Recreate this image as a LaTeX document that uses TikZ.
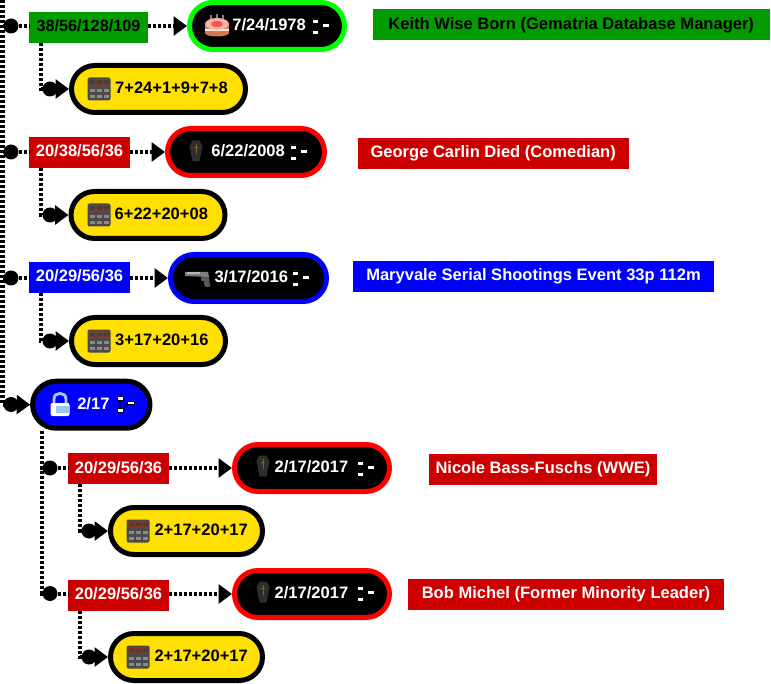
\documentclass[tikz,border=0pt]{standalone}
\usepackage{fontspec}
\setmainfont{Liberation Sans}
\usetikzlibrary{arrows.meta}
\definecolor{boxgreen}{HTML}{009C00}
\definecolor{boxred}{HTML}{CC0000}
\definecolor{boxblue}{HTML}{0000FF}
\definecolor{ringgreen}{HTML}{00FF00}
\definecolor{ringred}{HTML}{FF0000}
\definecolor{pillyellow}{HTML}{FFE000}
\definecolor{calcbody}{HTML}{4A4A4A}
\definecolor{calctop}{HTML}{7E3A26}
\definecolor{calckey}{HTML}{8A8A8A}
\definecolor{coffinbody}{HTML}{2E2E2E}
\definecolor{coffincross}{HTML}{8A6020}
\definecolor{cakeside}{HTML}{D07A50}
\definecolor{caketop}{HTML}{F6B0A0}
\definecolor{cakered}{HTML}{E85A50}
\definecolor{lockring}{HTML}{A8C8EC}
\definecolor{lockband}{HTML}{9CC8EE}
\newcommand{\pilltext}[3]{\makebox[#1pt][l]{\hspace*{#2pt}#3}}
\tikzset{
  x=0.75pt,y=-0.75pt,
  every node/.style={font=\bfseries\fontsize{12.4}{14}\selectfont,inner sep=0pt,outer sep=0pt},
  pillbase/.style={draw,line width=3.75pt,rounded corners=17.6pt,minimum height=35.25pt,outer sep=1.875pt,text height=8.9pt,text depth=1.5pt},
  blackpill/.style={pillbase,fill=black,text=white},
  yellowpill/.style={pillbase,draw=black,fill=pillyellow,text=black},
  gembox/.style={minimum height=23.25pt,text=white,text height=8.9pt,text depth=2.2pt},
  dotline/.style={line width=3pt,dash pattern=on 2.25pt off 1.5pt,draw=black},
  arrline/.style={dotline,-{Triangle[length=10pt,width=14pt]}},
  joint/.style={circle,fill=black,minimum size=11.25pt},
  pics/treeicon/.style={code={
    \draw[black,line width=0.8pt] (-5,-5)--(-5,6) (-2,6)--(3,-1);
    \fill[white,draw=black,line width=0.4pt] (-8,-7) rectangle (-1.5,-3) (-8,4.5) rectangle (-1.5,8.5) (2,-2.5) rectangle (9,1);
  }},
  pics/calcicon/.style={code={
    \fill[calcbody,rounded corners=1.5pt] (-11.5,-11.5) rectangle (11.5,11.5);
    \fill[calctop] (-10,-10) rectangle (10,-3);
    \foreach \xx in {-7,0,7}{
      \fill[black!75] (\xx-2.5,-8.5) rectangle (\xx+2.5,-5);
      \fill[calckey] (\xx-2.5,0) rectangle (\xx+2.5,3);
      \fill[calckey] (\xx-2.5,6) rectangle (\xx+2.5,9);
    }
  }},
  pics/cakeicon/.style={code={
    \draw[black!50,line width=0.8pt] (-6,-5)--(-6,-11) (0,-5)--(0,-12) (6,-5)--(6,-11);
    \fill[cakeside] (0,7) ellipse[x radius=12,y radius=3.5];
    \fill[cakeside] (-12,-2) rectangle (12,7);
    \fill[white!85!orange] (-12,3) rectangle (12,5);
    \fill[caketop] (0,-2) ellipse[x radius=12,y radius=6];
    \fill[cakered] (0,-2) ellipse[x radius=6,y radius=3];
  }},
  pics/coffinicon/.style={code={
    \fill[coffinbody] (-3.5,-10.5) -- (3.5,-10.5) -- (6.5,-5) -- (3.5,10.5) -- (-3.5,10.5) -- (-6.5,-5) -- cycle;
    \draw[coffincross,line width=0.6pt] (0,-7)--(0,3) (-2,-4)--(2,-4);
  }},
  pics/gunicon/.style={code={
    \fill[black!50] (-13,-4) -- (10,-4) -- (11,1) -- (-13,0) -- cycle;
    \fill[black!28] (-11,-3.5) rectangle (2,-2);
    \fill[black!65] (3,1) -- (11,1) -- (12,11) -- (7,11) -- (5.5,5) -- (3,5) -- cycle;
  }},
  pics/lockicon/.style={code={
    \draw[lockring,line width=2.2pt] (-6,0) -- (-6,-5) .. controls (-6,-12.5) and (6,-12.5) .. (6,-5) -- (6,0);
    \fill[white,rounded corners=1.5pt] (-9.5,-1) rectangle (9.5,12);
    \fill[lockband] (-4,2) rectangle (9.5,9);
  }}
}
\begin{document}
\begin{tikzpicture}
\useasboundingbox (0,0) rectangle (771,684);
% row 1
\node[gembox,fill=boxgreen,text=black,minimum width=89.25pt] (b1) at (88.5,27.5) {\fontsize{12.15}{14}\selectfont 38/56/128/109};
\node[blackpill,draw=ringgreen,minimum width=116.25pt] (p1) at (267,26) {\pilltext{112}{30}{7/24/1978}};
\node[yellowpill,minimum width=130.5pt] (y1) at (158.5,89) {\pilltext{125}{30}{7+24+1+9+7+8}};
\node[gembox,fill=boxgreen,text=black,minimum width=298pt] (l1) at (571.25,25) {Keith Wise Born (Gematria Database Manager)};
\node[joint] (j1) at (11,26) {};
\node[joint] (k1) at (50,89) {};
% row 2
\node[gembox,fill=boxred,minimum width=75.75pt] (b2) at (79.5,152.5) {20/38/56/36};
\node[blackpill,draw=ringred,minimum width=117.75pt] (p2) at (246,152) {\pilltext{112}{30}{6/22/2008}};
\node[yellowpill,minimum width=115.5pt] (y2) at (148,215) {\pilltext{110}{30}{6+22+20+08}};
\node[gembox,fill=boxred,minimum width=203.5pt] (l2) at (493.2,153.3) {George Carlin Died (Comedian)};
\node[joint] (j2) at (11,152) {};
\node[joint] (k2) at (50,215) {};
% row 3
\node[gembox,fill=boxblue,minimum width=75.75pt] (b3) at (79.5,277.5) {20/29/56/36};
\node[blackpill,draw=boxblue,minimum width=117pt] (p3) at (248.5,278) {\pilltext{112}{30.5}{3/17/2016}};
\node[yellowpill,minimum width=115.5pt] (y3) at (148.5,341) {\pilltext{110}{30}{3+17+20+16}};
\node[gembox,fill=boxblue,minimum width=270.75pt] (l3) at (533.5,276.5) {Maryvale Serial Shootings Event 33p 112m};
\node[joint] (j3) at (11,278) {};
\node[joint] (k3) at (50,341) {};
% row 4
\node[pillbase,draw=black,fill=boxblue,text=white,minimum width=88pt] (p4) at (91.3,404.7) {\pilltext{84}{31.5}{2/17}};
\node[joint] (j4) at (11,404.5) {};
% row 5
\node[gembox,fill=boxred,minimum width=75.75pt] (b5) at (118.5,468.8) {20/29/56/36};
\node[blackpill,draw=ringred,minimum width=116.25pt] (p5) at (312,468) {\pilltext{112}{28}{2/17/2017}};
\node[yellowpill,minimum width=114pt] (y5) at (186.5,531) {\pilltext{109}{30.5}{2+17+20+17}};
\node[gembox,fill=boxred,minimum width=171pt] (l5) at (543,469.5) {Nicole Bass-Fuschs (WWE)};
\node[joint] (j5) at (50,468) {};
\node[joint] (k5) at (89,531) {};
% row 6
\node[gembox,fill=boxred,minimum width=75.75pt] (b6) at (118.5,595) {20/29/56/36};
\node[blackpill,draw=ringred,minimum width=116.25pt] (p6) at (312,594) {\pilltext{112}{28}{2/17/2017}};
\node[yellowpill,minimum width=114pt] (y6) at (186.5,657) {\pilltext{109}{30.5}{2+17+20+17}};
\node[gembox,fill=boxred,minimum width=237pt] (l6) at (566,594.5) {Bob Michel (Former Minority Leader)};
\node[joint] (j6) at (50,593.5) {};
\node[joint] (k6) at (89,657) {};
% trunk
\coordinate (trunktop) at (2.5,0);
\coordinate (trunkend) at (2.5,404.5);
\coordinate (subtop) at (41.5,431);
\draw[dotline] (trunktop) -- (trunkend) -- (j4);
\draw[dotline] (j1 -| trunktop) -- (j1);
\draw[dotline] (j2 -| trunktop) -- (j2);
\draw[dotline] (j3 -| trunktop) -- (j3);
\draw[dotline] (subtop) |- (j5);
\draw[dotline] (subtop) |- (j6);
% connectors
\foreach \r in {1,2,3,5,6}{
  \draw[dotline] (j\r) -- (j\r -| b\r.west);
  \draw[arrline] (p\r -| b\r.east) -- (p\r.west);
  \draw[dotline] ([xshift=9.3pt]b\r.south west) |- (k\r);
  \draw[arrline] (k\r) -- (y\r.west);
}
\draw[arrline] (j4) -- (p4.west);
% icons
\pic at (320,26) {treeicon};
\pic at (298,152) {treeicon};
\pic at (300,278) {treeicon};
\pic at (125,403.5) {treeicon};
\pic at (365,468) {treeicon};
\pic at (365,593) {treeicon};
\pic at (99,89) {calcicon};
\pic at (99,215) {calcicon};
\pic at (99,341) {calcicon};
\pic at (138,531) {calcicon};
\pic at (138,657) {calcicon};
\pic at (217,26) {cakeicon};
\pic at (196,151) {coffinicon};
\pic at (263,466) {coffinicon};
\pic at (263,592) {coffinicon};
\pic at (198,276) {gunicon};
\pic at (60,404) {lockicon};
\end{tikzpicture}
\end{document}
